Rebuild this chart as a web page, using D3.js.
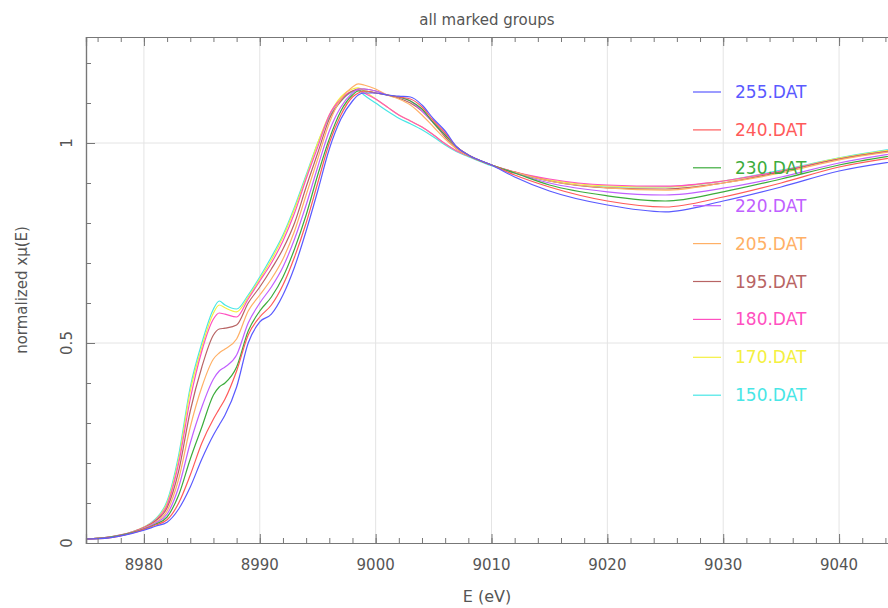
<!DOCTYPE html>
<html>
<head>
<meta charset="utf-8">
<script src="https://cdn.jsdelivr.net/npm/d3@7"></script>
<style>
  body { margin: 0; background: #fff; }
  text { font-family: "DejaVu Sans", sans-serif; }
</style>
</head>
<body>
<div id="chart"></div>
<script>
// energies (eV)
var energy = [8975, 8977, 8979, 8980, 8981, 8982, 8983, 8984, 8985, 8986, 8986.5, 8987, 8988, 8989, 8990,
  8991, 8992, 8993, 8994, 8995, 8996, 8997, 8998, 8998.5, 8999, 9000, 9001, 9002, 9003, 9004, 9005,
  9006, 9007, 9008, 9010, 9012, 9015, 9020, 9025, 9030, 9035, 9040, 9045];

var s255 = [0.010, 0.013, 0.024, 0.032, 0.042, 0.052, 0.085, 0.14, 0.21, 0.27, 0.295, 0.32, 0.39, 0.50, 0.553,
  0.572, 0.62, 0.69, 0.78, 0.88, 0.985, 1.06, 1.105, 1.12, 1.125, 1.125, 1.12, 1.117, 1.115, 1.095, 1.06,
  1.03, 0.99, 0.97, 0.945, 0.915, 0.88, 0.845, 0.828, 0.855, 0.89, 0.93, 0.955];
var s240 = [0.010, 0.013, 0.025, 0.034, 0.045, 0.058, 0.10, 0.17, 0.25, 0.31, 0.335, 0.36, 0.43, 0.52, 0.565,
  0.595, 0.645, 0.715, 0.80, 0.90, 1.0, 1.07, 1.115, 1.125, 1.13, 1.125, 1.12, 1.115, 1.11, 1.09, 1.055,
  1.025, 0.99, 0.97, 0.945, 0.92, 0.89, 0.855, 0.84, 0.865, 0.90, 0.94, 0.965];
var s230 = [0.010, 0.014, 0.026, 0.035, 0.047, 0.065, 0.12, 0.21, 0.29, 0.37, 0.39, 0.40, 0.44, 0.53, 0.58,
  0.615, 0.665, 0.735, 0.82, 0.92, 1.01, 1.08, 1.12, 1.13, 1.13, 1.125, 1.12, 1.115, 1.105, 1.085, 1.05,
  1.02, 0.99, 0.97, 0.945, 0.925, 0.895, 0.868, 0.855, 0.878, 0.91, 0.945, 0.97];
var s220 = [0.010, 0.014, 0.026, 0.036, 0.050, 0.072, 0.14, 0.25, 0.34, 0.41, 0.43, 0.44, 0.47, 0.55, 0.60,
  0.64, 0.69, 0.76, 0.845, 0.94, 1.03, 1.09, 1.125, 1.135, 1.135, 1.13, 1.12, 1.115, 1.105, 1.08, 1.05,
  1.02, 0.99, 0.97, 0.945, 0.925, 0.90, 0.878, 0.87, 0.887, 0.915, 0.95, 0.975];
var s205 = [0.010, 0.014, 0.027, 0.037, 0.052, 0.080, 0.16, 0.29, 0.39, 0.46, 0.475, 0.485, 0.51, 0.58, 0.62,
  0.66, 0.71, 0.78, 0.87, 0.96, 1.05, 1.11, 1.14, 1.148, 1.145, 1.135, 1.12, 1.11, 1.095, 1.07, 1.04,
  1.01, 0.985, 0.968, 0.945, 0.927, 0.905, 0.888, 0.882, 0.90, 0.925, 0.958, 0.98];
var s195 = [0.010, 0.015, 0.027, 0.038, 0.055, 0.088, 0.18, 0.33, 0.44, 0.52, 0.535, 0.537, 0.545, 0.60, 0.64,
  0.685, 0.735, 0.80, 0.89, 0.975, 1.06, 1.105, 1.13, 1.135, 1.135, 1.13, 1.12, 1.112, 1.10, 1.08, 1.05,
  1.015, 0.985, 0.968, 0.945, 0.927, 0.905, 0.888, 0.885, 0.90, 0.928, 0.96, 0.982];
var s180 = [0.010, 0.015, 0.028, 0.039, 0.057, 0.095, 0.20, 0.36, 0.48, 0.56, 0.575, 0.572, 0.565, 0.61, 0.655,
  0.70, 0.755, 0.825, 0.91, 0.99, 1.07, 1.11, 1.13, 1.132, 1.125, 1.11, 1.09, 1.07, 1.055, 1.04, 1.02,
  0.998, 0.98, 0.968, 0.945, 0.928, 0.91, 0.895, 0.892, 0.905, 0.93, 0.96, 0.982];
var s170 = [0.010, 0.015, 0.028, 0.040, 0.058, 0.100, 0.21, 0.38, 0.49, 0.575, 0.595, 0.588, 0.578, 0.615, 0.66,
  0.708, 0.765, 0.835, 0.915, 1.0, 1.07, 1.115, 1.135, 1.138, 1.13, 1.11, 1.09, 1.07, 1.055, 1.04, 1.02,
  0.998, 0.98, 0.968, 0.945, 0.927, 0.908, 0.893, 0.89, 0.905, 0.93, 0.962, 0.985];
var s150 = [0.010, 0.015, 0.028, 0.040, 0.060, 0.105, 0.22, 0.39, 0.50, 0.585, 0.605, 0.595, 0.585, 0.62, 0.665,
  0.715, 0.77, 0.84, 0.92, 1.0, 1.065, 1.105, 1.128, 1.133, 1.12, 1.10, 1.08, 1.062, 1.048, 1.033, 1.015,
  0.995, 0.978, 0.966, 0.943, 0.925, 0.905, 0.89, 0.89, 0.905, 0.932, 0.963, 0.987];

var names = ["255.DAT", "240.DAT", "230.DAT", "220.DAT", "205.DAT", "195.DAT", "180.DAT", "170.DAT", "150.DAT"];
var series = [s255, s240, s230, s220, s205, s195, s180, s170, s150];
var colors = ["#5a5aff", "#ff5a5a", "#3cac3c", "#c060ff", "#ffb066", "#b86464", "#ff50c0", "#f4f040", "#48e6e6"];

var xTicks = [8980, 8990, 9000, 9010, 9020, 9030, 9040];
var yTicks = [0, 0.5, 1];

drawChart();

function drawChart() {
    var w = 888, h = 608;
    var pLeft = 86, pTop = 37, pBottom = 543, pRight = 897;

    var svg = d3.select("#chart").append("svg")
        .attr("width", w)
        .attr("height", h);

    var x = d3.scaleLinear().domain([8975, 9045]).range([pLeft, pRight]);
    var y = d3.scaleLinear().domain([0, 1.265]).range([pBottom, pTop]);

    // grid
    svg.selectAll(".vgrid").data(xTicks).enter().append("line")
        .attr("x1", function(d) { return x(d); })
        .attr("x2", function(d) { return x(d); })
        .attr("y1", pTop).attr("y2", pBottom)
        .attr("stroke", "#e4e4e4");
    svg.selectAll(".hgrid").data(yTicks.slice(1)).enter().append("line")
        .attr("x1", pLeft).attr("x2", w)
        .attr("y1", function(d) { return y(d); })
        .attr("y2", function(d) { return y(d); })
        .attr("stroke", "#e4e4e4");

    // clip for curves
    svg.append("clipPath").attr("id", "clip").append("rect")
        .attr("x", pLeft).attr("y", pTop).attr("width", w - pLeft).attr("height", pBottom - pTop);

    var line = d3.line()
        .x(function(d) { return x(d[0]); })
        .y(function(d) { return y(d[1]); })
        .curve(d3.curveMonotoneX);

    var g = svg.append("g").attr("clip-path", "url(#clip)");
    // draw from last to first so 255 sits on top
    for (var i = series.length - 1; i >= 0; i--) {
        g.append("path")
            .datum(d3.zip(energy, series[i]))
            .attr("d", line)
            .attr("fill", "none")
            .attr("stroke", colors[i])
            .attr("stroke-width", 1.2);
    }

    // axes with inward ticks
    var xMinor = d3.range(8976, 9046, 2);
    var yMinor = d3.range(0, 1.26, 0.1);
    var axisCol = "#777";

    var axes = [];
    axes.push(svg.append("g").attr("transform", "translate(0," + pBottom + ")")
        .call(d3.axisTop(x).tickValues(xMinor).tickSize(5).tickFormat("")));
    axes.push(svg.append("g").attr("transform", "translate(0," + pBottom + ")")
        .call(d3.axisTop(x).tickValues(xTicks).tickSize(9).tickFormat("")));
    axes.push(svg.append("g").attr("transform", "translate(0," + pTop + ")")
        .call(d3.axisBottom(x).tickValues(xMinor).tickSize(5).tickFormat("")));
    axes.push(svg.append("g").attr("transform", "translate(0," + pTop + ")")
        .call(d3.axisBottom(x).tickValues(xTicks).tickSize(9).tickFormat("")));
    axes.push(svg.append("g").attr("transform", "translate(" + pLeft + ",0)")
        .call(d3.axisRight(y).tickValues(yMinor).tickSize(5).tickFormat("")));
    axes.push(svg.append("g").attr("transform", "translate(" + pLeft + ",0)")
        .call(d3.axisRight(y).tickValues(yTicks).tickSize(9).tickFormat("")));

    axes.forEach(function(a) {
        a.selectAll("path").attr("stroke", axisCol).attr("stroke-width", 1.2);
        a.selectAll("line").attr("stroke", axisCol);
    });

    // tick labels
    svg.selectAll(".xlab").data(xTicks).enter().append("text")
        .text(function(d) { return d; })
        .attr("x", function(d) { return x(d); })
        .attr("y", 570)
        .attr("text-anchor", "middle")
        .attr("font-size", "15px")
        .attr("fill", "#555");

    svg.selectAll(".ylab").data(yTicks).enter().append("text")
        .text(function(d) { return d; })
        .attr("transform", function(d) { return "translate(72," + y(d) + ") rotate(-90)"; })
        .attr("text-anchor", "middle")
        .attr("font-size", "15px")
        .attr("fill", "#555");

    // titles
    svg.append("text").text("all marked groups")
        .attr("x", 487).attr("y", 25)
        .attr("text-anchor", "middle")
        .attr("font-size", "15px")
        .attr("fill", "#555");
    svg.append("text").text("E (eV)")
        .attr("x", 487).attr("y", 602)
        .attr("text-anchor", "middle")
        .attr("font-size", "16px")
        .attr("fill", "#555");
    svg.append("text").text("normalized xμ(E)")
        .attr("transform", "translate(27,290) rotate(-90)")
        .attr("text-anchor", "middle")
        .attr("font-size", "15px")
        .attr("fill", "#555");

    // legend
    var leg = svg.selectAll(".leg").data(names).enter().append("g")
        .attr("transform", function(d, i) { return "translate(693," + (92 + i * 37.9) + ")"; });
    leg.append("line")
        .attr("x1", 0).attr("x2", 28).attr("y1", 0).attr("y2", 0)
        .attr("stroke", function(d, i) { return colors[i]; })
        .attr("stroke-width", 1.2);
    leg.append("text")
        .text(function(d) { return d; })
        .attr("x", 42).attr("y", 6)
        .attr("font-size", "17px")
        .attr("fill", function(d, i) { return colors[i]; });
}
</script>
</body>
</html>
